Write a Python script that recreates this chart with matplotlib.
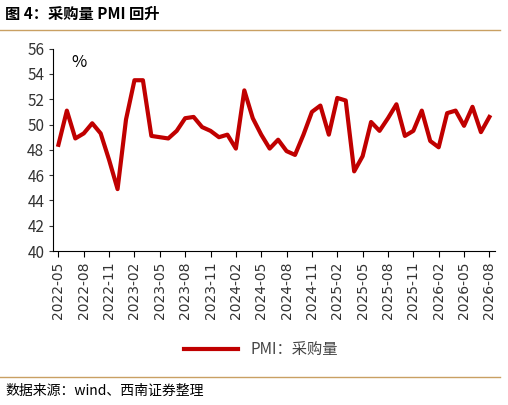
import matplotlib
matplotlib.use('Agg')
import matplotlib.pyplot as plt
import pandas as pd

plt.rcParams['font.family'] = ['Noto Sans CJK SC', 'DejaVu Sans']

months = pd.date_range('2022-05', '2026-08', freq='MS').strftime('%Y-%m').tolist()
pmi_purchase = [48.4, 51.1, 48.9, 49.3, 50.1, 49.3, 47.2, 44.9,
                50.4, 53.5, 53.5, 49.1, 49.0, 48.9, 49.5, 50.5, 50.6, 49.8, 49.5, 49.0,
                49.2, 48.1, 52.7, 50.5, 49.2, 48.1, 48.8, 47.9, 47.6, 49.2, 51.0, 51.5,
                49.2, 52.1, 51.9, 46.3, 47.5, 50.2, 49.5, 50.5, 51.6, 49.1, 49.5, 51.1,
                48.7, 48.2, 50.9, 51.1, 49.9, 51.4, 49.4, 50.6]

RED = '#C00000'
fig = plt.figure(figsize=(5.08, 4.05), dpi=100)
ax = fig.add_axes([0.105, 0.38, 0.87, 0.5])

x = range(len(months))
ax.plot(x, pmi_purchase, color=RED, lw=3, label='PMI：采购量')
ax.set_ylim(40, 56)
ax.set_yticks(range(40, 57, 2))
ax.set_xlim(-0.6, len(months) - 0.3)
ax.set_xticks(list(x)[::3])
ax.set_xticklabels(months[::3], rotation=90, fontsize=10, family='DejaVu Sans', color='#333333')
ax.tick_params(axis='y', labelsize=11, colors='#333333', length=3)
ax.tick_params(axis='x', length=4)
for s in ['top', 'right']:
    ax.spines[s].set_visible(False)
ax.text(0.04, 0.93, '%', transform=ax.transAxes, fontsize=12, ha='left', va='center')

ax.legend(loc='upper center', bbox_to_anchor=(0.47, -0.38), frameon=False,
          fontsize=11, handlelength=3.5, labelcolor='#444444')

fig.text(0.01, 0.965, '图 4：采购量 PMI 回升', fontsize=11, fontweight='bold', va='center')
fig.add_artist(plt.Line2D([0.0, 0.985], [0.925, 0.925], color='#C9A063', lw=1))
fig.add_artist(plt.Line2D([0.0, 0.985], [0.07, 0.07], color='#C9A063', lw=1))
fig.text(0.01, 0.035, '数据来源：wind、西南证券整理', fontsize=10, style='italic', va='center')

fig.savefig('out.png', dpi=100)
